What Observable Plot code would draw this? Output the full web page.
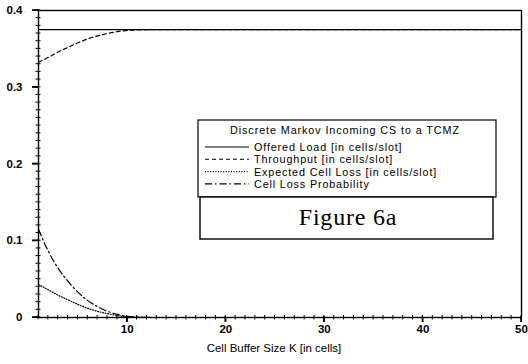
<!DOCTYPE html>
<html>
<head>
<meta charset="utf-8">
<script src="https://cdn.jsdelivr.net/npm/d3@7"></script>
<script src="https://cdn.jsdelivr.net/npm/@observablehq/plot@0.6"></script>
<style>
  body { margin: 0; background: #fff; }
  #chart { width: 528px; height: 364px; }
</style>
</head>
<body>
<div id="chart"></div>
<script>
// Cell buffer size K (cells)
const bufferSize = [1, 2, 3, 4, 5, 6, 7, 8, 9, 10, 11, 12, 13, 14, 15, 20, 30, 40, 50];

// Offered load (cells/slot)
const offeredLoad = [0.375, 0.375, 0.375, 0.375, 0.375, 0.375, 0.375, 0.375, 0.375, 0.375,
                     0.375, 0.375, 0.375, 0.375, 0.375, 0.375, 0.375, 0.375, 0.375];
// Throughput (cells/slot)
const throughput = [0.3325, 0.339, 0.346, 0.352, 0.358, 0.363, 0.367, 0.370, 0.3725, 0.374,
                    0.3746, 0.3749, 0.375, 0.375, 0.375, 0.375, 0.375, 0.375, 0.375];
// Expected cell loss (cells/slot)
const expectedLoss = [0.043, 0.036, 0.029, 0.023, 0.017, 0.012, 0.008, 0.005, 0.0025, 0.001,
                      0.0004, 0.0001, 0, 0, 0, 0, 0, 0, 0];
// Cell loss probability
const lossProbability = [0.115, 0.086, 0.064, 0.047, 0.033, 0.022, 0.014, 0.008, 0.004, 0.0015,
                         0.0005, 0.0001, 0, 0, 0, 0, 0, 0, 0];

const seriesNames = [
  "Offered Load [in cells/slot]",
  "Throughput [in cells/slot]",
  "Expected Cell Loss [in cells/slot]",
  "Cell Loss Probability"
];
const seriesValues = [offeredLoad, throughput, expectedLoss, lossProbability];
const seriesDash = [null, "4,3", "1,1.6", "7,3,1.5,3"];

const legendTitle = "Discrete Markov Incoming CS to a TCMZ";
const figureLabel = "Figure 6a";
const xLabel = "Cell Buffer Size K [in cells]";

const yTicks = [0, 0.1, 0.2, 0.3, 0.4];
const yMinorTicks = d3.range(0, 41).map(i => i / 100);
const xTicks = [10, 20, 30, 40, 50];
const xMinorTicks = d3.range(1, 51);

const font = "'Liberation Sans', Arial, Helvetica, sans-serif";

const plot = Plot.plot({
  width: 528,
  height: 364,
  marginLeft: 38,
  marginRight: 7,
  marginTop: 10,
  marginBottom: 47,
  style: { fontFamily: font, fontSize: "11.5px", color: "#000", background: "#fff" },
  x: { domain: [1, 50] },
  y: { domain: [0, 0.4] },
  marks: [
    Plot.axisY(yTicks, {
      tickSize: 6, tickPadding: 10, label: null, fontWeight: "bold",
      tickFormat: d => d === 0 ? "0" : d.toFixed(1)
    }),
    Plot.axisX(xTicks, { tickSize: 5, tickPadding: 2, label: null, fontWeight: "bold" }),
    Plot.text([xLabel], {
      frameAnchor: "bottom", dy: 34, dx: -6, text: d => d,
      fontSize: 11.5, fontFamily: font, fill: "#000", letterSpacing: 0.4
    }),
    ...seriesValues.map((vals, i) => Plot.line(bufferSize, {
      x: bufferSize, y: vals, stroke: "#000", strokeWidth: 1.2,
      strokeDasharray: seriesDash[i], curve: "monotone-x"
    })),
    Plot.frame({ stroke: "#000", strokeWidth: 1.4 })
  ]
});

document.getElementById("chart").appendChild(plot);

const svg = d3.select(plot);
const xs = plot.scale("x");
const ys = plot.scale("y");
const x0 = xs.apply(xs.domain[0]);
const y0 = ys.apply(ys.domain[0]);

// Tick marks on both axes, placed through the chart's own scales
const ticks = svg.append("g").attr("stroke", "#000");
yMinorTicks.forEach(v => {
  const y = ys.apply(v);
  ticks.append("line").attr("x1", x0 - 2.5).attr("x2", x0 + 2.5).attr("y1", y).attr("y2", y).attr("stroke-width", 1);
});
yTicks.forEach(v => {
  const y = ys.apply(v);
  ticks.append("line").attr("x1", x0 - 6).attr("x2", x0 + 1).attr("y1", y).attr("y2", y).attr("stroke-width", 1.6);
});
xMinorTicks.forEach(v => {
  const x = xs.apply(v);
  ticks.append("line").attr("x1", x).attr("x2", x).attr("y1", y0 - 2).attr("y2", y0 + 2.5).attr("stroke-width", 1);
});
xTicks.forEach(v => {
  const x = xs.apply(v);
  ticks.append("line").attr("x1", x).attr("x2", x).attr("y1", y0 - 1).attr("y2", y0 + 5).attr("stroke-width", 1.6);
});

// Legend box and figure label, layered over the plot area
const legend = svg.append("g")
  .attr("font-family", font).attr("fill", "#000").attr("text-anchor", "start");
legend.append("rect")
  .attr("x", 198).attr("y", 120).attr("width", 298).attr("height", 77)
  .attr("fill", "#fff").attr("stroke", "#000").attr("stroke-width", 1.2);
legend.append("text")
  .attr("x", 345).attr("y", 134).attr("text-anchor", "middle")
  .attr("font-size", 10.8).attr("letter-spacing", 0.9).text(legendTitle);
seriesNames.forEach((name, i) => {
  const y = 147 + i * 12.3;
  legend.append("line")
    .attr("x1", 205).attr("x2", 249).attr("y1", y).attr("y2", y)
    .attr("stroke", "#000").attr("stroke-width", 1.1)
    .attr("stroke-dasharray", seriesDash[i]);
  legend.append("text")
    .attr("x", 254).attr("y", y + 4).attr("text-anchor", "start")
    .attr("font-size", 10.8).attr("letter-spacing", 0.85).text(name);
});

const fig = svg.append("g");
fig.append("rect")
  .attr("x", 200).attr("y", 197).attr("width", 293).attr("height", 42)
  .attr("fill", "#fff").attr("stroke", "#000").attr("stroke-width", 1.4);
fig.append("text")
  .attr("x", 348).attr("y", 225).attr("text-anchor", "middle")
  .attr("font-family", "'Liberation Serif', 'Times New Roman', serif")
  .attr("font-size", 24).attr("letter-spacing", 0.8).attr("fill", "#000")
  .text(figureLabel);
</script>
</body>
</html>
